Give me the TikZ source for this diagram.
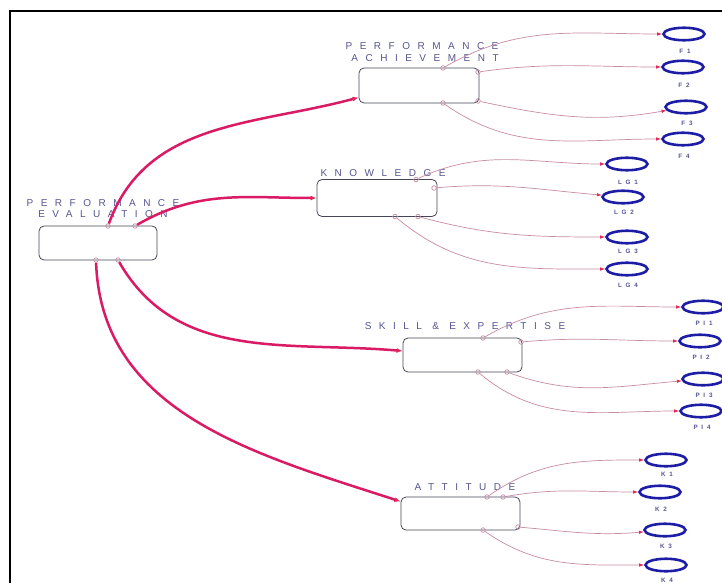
\documentclass[tikz,border=0pt]{standalone}
\usepackage{fontspec}
\setmainfont{Liberation Sans}
\usetikzlibrary{arrows.meta,shapes.geometric}
\definecolor{thickc}{RGB}{218,26,100}
\definecolor{thinc}{RGB}{200,140,165}
\definecolor{tipc}{RGB}{225,40,90}
\definecolor{ellc}{RGB}{28,28,165}
\definecolor{boxc}{RGB}{70,70,90}
\definecolor{labc}{RGB}{85,85,145}
\newfontfamily\labfont[LetterSpace=75]{Liberation Sans}
\newfontfamily\smallfont[LetterSpace=60]{Liberation Sans Bold}
\begin{document}
\begin{tikzpicture}[x=1pt,y=-1pt,
  cbox/.style={draw=boxc, line width=0.8pt, rounded corners=5pt, inner sep=0pt},
  lab/.style={text=labc, font=\labfont\fontsize{10}{11}\selectfont, inner sep=0pt},
  slab/.style={text=labc, font=\smallfont\fontsize{6.3}{7}\selectfont, inner sep=0pt},
  ind/.style={ellipse, draw=ellc, line width=2.6pt, minimum width=41pt, minimum height=12.5pt, inner sep=0pt},
  port/.style={circle, draw=thinc, line width=0.7pt, minimum size=4.5pt, inner sep=0pt},
  thickconn/.style={draw=thickc, line width=2.5pt, -{Latex[length=6pt,width=5pt,color=tipc]}},
  thinconn/.style={draw=thinc, line width=0.7pt, -{Latex[length=5pt,width=3.5pt,color=tipc]}}]
\useasboundingbox (0,0) rectangle (722,583);
\fill[white] (0,0) rectangle (722,583);
\draw[line width=2pt] (10,583) -- (10,11) -- (722,11);

% construct boxes
\node[cbox, minimum width=118pt, minimum height=34pt] (pe) at (98,243) {};
\node[cbox, minimum width=120pt, minimum height=35pt] (pa) at (419,85.5) {};
\node[cbox, minimum width=120pt, minimum height=37pt] (kn) at (377,198) {};
\node[cbox, minimum width=119pt, minimum height=34pt] (se) at (462.5,355) {};
\node[cbox, minimum width=119pt, minimum height=33pt] (at) at (460.5,513.5) {};

% labels
\node[lab] (pel1) at (103,203) {PERFORMANCE};
\node[lab] (pel2) at (103,214) {EVALUATION};
\node[lab] (pal1) at (422,46) {PERFORMANCE};
\node[lab] (pal2) at (425,58) {ACHIEVEMENT};
\node[lab] (knl) at (383,173) {KNOWLEDGE};
\node[lab] (sel) at (465,326) {SKILL \& EXPERTISE};
\node[lab] (atl) at (465,487) {ATTITUDE};

% indicators
\node[ind] (f1) at (684,34) {};  \node[slab] (f1l) at (685,51) {F1};
\node[ind] (f2) at (683,67) {};  \node[slab] (f2l) at (684,85) {F2};
\node[ind] (f3) at (686,107) {}; \node[slab] (f3l) at (687,123) {F3};
\node[ind] (f4) at (683,139) {}; \node[slab] (f4l) at (684,156) {F4};
\node[ind] (lg1) at (627,164) {}; \node[slab] (lg1l) at (628,182) {LG1};
\node[ind] (lg2) at (623,197) {}; \node[slab] (lg2l) at (624,212) {LG2};
\node[ind] (lg3) at (627,237) {}; \node[slab] (lg3l) at (628,251) {LG3};
\node[ind] (lg4) at (627,269) {}; \node[slab] (lg4l) at (628,285) {LG4};
\node[ind] (pi1) at (703,307) {}; \node[slab] (pi1l) at (704,323) {PI1};
\node[ind] (pi2) at (700,341) {}; \node[slab] (pi2l) at (701,357) {PI2};
\node[ind] (pi3) at (703,379) {}; \node[slab] (pi3l) at (704,395) {PI3};
\node[ind] (pi4) at (701,411) {}; \node[slab] (pi4l) at (702,427) {PI4};
\node[ind] (k1) at (666,460) {}; \node[slab] (k1l) at (667,474) {K1};
\node[ind] (k2) at (660,492) {}; \node[slab] (k2l) at (661,509) {K2};
\node[ind] (k3) at (665,530) {}; \node[slab] (k3l) at (666,546) {K3};
\node[ind] (k4) at (666,565) {}; \node[slab] (k4l) at (667,580) {K4};

% ports
\node[port] (pe1) at (108,226) {};
\node[port] (pe2) at (135,226) {};
\node[port] (pe3) at (96,260) {};
\node[port] (pe4) at (118,260) {};
\node[port] (pa1) at (443,68) {};
\node[port] (pa2) at (478,72) {};
\node[port] (pa3) at (478,101) {};
\node[port] (pa4) at (443,103) {};
\node[port] (kn1) at (416,179.5) {};
\node[port] (kn2) at (434,188) {};
\node[port] (kn3) at (418,216.5) {};
\node[port] (kn4) at (395,216.5) {};
\node[port] (se1) at (483,338) {};
\node[port] (se2) at (521,342) {};
\node[port] (se3) at (507,372) {};
\node[port] (se4) at (478,372) {};
\node[port] (at1) at (487,497) {};
\node[port] (at2) at (503,497) {};
\node[port] (at3) at (518,527) {};
\node[port] (at4) at (483,530) {};

% structural paths
\draw[thickconn] (pe1) to[out=70,in=195] ([yshift=-12pt]pa.west);
\draw[thickconn] (pe2) to[out=30,in=180] (kn.west);
\draw[thickconn] (pe4) to[out=-60,in=175] ([yshift=4pt]se.west);
\draw[thickconn] (pe3) to[out=-88,in=162] ([yshift=12pt]at.west);

% measurement paths
\draw[thinconn] (pa1) to[out=30,in=180] (f1);
\draw[thinconn] (pa2) to[out=8,in=180] (f2);
\draw[thinconn] (pa3) to[out=-12,in=190] (f3);
\draw[thinconn] (pa4) to[out=-35,in=180] (f4);
\draw[thinconn] (kn1) to[out=25,in=180] (lg1);
\draw[thinconn] (kn2) to[out=5,in=175] (lg2);
\draw[thinconn] (kn3) to[out=-15,in=180] (lg3);
\draw[thinconn] (kn4) to[out=-40,in=180] (lg4);
\draw[thinconn] (se1) to[out=30,in=180] (pi1);
\draw[thinconn] (se2) to[out=5,in=180] (pi2);
\draw[thinconn] (se3) to[out=-20,in=185] (pi3);
\draw[thinconn] (se4) to[out=-40,in=180] (pi4);
\draw[thinconn] (at1) to[out=35,in=180] (k1);
\draw[thinconn] (at2) to[out=10,in=180] (k2);
\draw[thinconn] (at3) to[out=-5,in=185] (k3);
\draw[thinconn] (at4) to[out=-35,in=180] (k4);
\end{tikzpicture}
\end{document}
